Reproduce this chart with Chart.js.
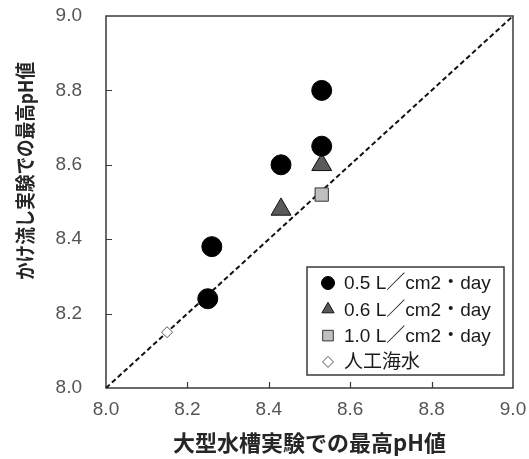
<!DOCTYPE html>
<html>
<head>
<meta charset="utf-8">
<style>
  html, body { margin: 0; padding: 0; background: #fff; }
  #wrap { width: 529px; height: 459px; }
</style>
<script src="https://cdn.jsdelivr.net/npm/chart.js@4.4.0/dist/chart.umd.min.js"></script>
</head>
<body>
<div id="wrap"><canvas id="phChart" width="529" height="459"></canvas></div>
<script>
// series names (legend)
const seriesNames = ['0.5 L／cm2・day', '0.6 L／cm2・day', '1.0 L／cm2・day', '人工海水'];

// 0.5 L/cm2・day
const circleX = [8.53, 8.53, 8.43, 8.26, 8.25];
const circleY = [8.80, 8.65, 8.60, 8.38, 8.24];
// 0.6 L/cm2・day
const triX = [8.53, 8.43];
const triY = [8.60, 8.48];
// 1.0 L/cm2・day
const squareX = [8.53];
const squareY = [8.52];
// 人工海水
const diamondX = [8.15];
const diamondY = [8.15];
// 1:1 line
const lineX = [8.0, 9.0];
const lineY = [8.0, 9.0];

// axis
const axisMin = 8.0;
const axisMax = 9.0;
const axisStep = 0.2;

const xTitle = '大型水槽実験での最高pH値';
const yTitle = 'かけ流し実験での最高pH値';

const toPoints = (xs, ys) => xs.map((x, i) => ({ x: x, y: ys[i] }));

const tickFont = { family: 'Liberation Sans, Arial, sans-serif', size: 19 };
const tickColor = '#555555';
const frameColor = '#3a3a3a';

// frame, inward ticks, y title and the legend box
const framePlugin = {
    id: 'framePlugin',
    beforeDatasetsDraw(chart) {
        const ctx = chart.ctx;
        const a = chart.chartArea;
        const xs = chart.scales.x;
        const ys = chart.scales.y;
        ctx.save();
        ctx.strokeStyle = frameColor;
        ctx.lineWidth = 1.5;
        ctx.strokeRect(a.left, a.top, a.right - a.left, a.bottom - a.top);
        ctx.lineWidth = 1.2;
        ctx.beginPath();
        xs.ticks.forEach(t => {
            if (t.value <= axisMin || t.value >= axisMax) return;
            const px = Math.round(xs.getPixelForValue(t.value)) + 0.5;
            ctx.moveTo(px, a.bottom);
            ctx.lineTo(px, a.bottom - 6);
        });
        ys.ticks.forEach(t => {
            if (t.value <= axisMin || t.value >= axisMax) return;
            const py = Math.round(ys.getPixelForValue(t.value)) + 0.5;
            ctx.moveTo(a.left, py);
            ctx.lineTo(a.left + 6, py);
        });
        ctx.stroke();
        ctx.restore();
    },
    afterDraw(chart) {
        const ctx = chart.ctx;
        // y axis title (squeezed a little along its length, like the original)
        ctx.save();
        ctx.translate(25, 171);
        ctx.rotate(-Math.PI / 2);
        ctx.font = 'bold 20px "Noto Sans CJK JP", sans-serif';
        const w = ctx.measureText(yTitle).width;
        ctx.scale(218 / w, 1);
        ctx.fillStyle = '#262626';
        ctx.textAlign = 'center';
        ctx.textBaseline = 'middle';
        ctx.fillText(yTitle, 0, 0);
        ctx.restore();

        // legend
        const box = { left: 307, top: 267, width: 197, height: 108 };
        ctx.save();
        ctx.fillStyle = '#ffffff';
        ctx.fillRect(box.left, box.top, box.width, box.height);
        ctx.strokeStyle = frameColor;
        ctx.lineWidth = 1.5;
        ctx.strokeRect(box.left, box.top, box.width, box.height);
        const legendRadius = [6.5, 7, 7.5, 5.5];
        chart.data.datasets.forEach((ds, i) => {
            if (i >= seriesNames.length) return;
            const cy = box.top + 16 + i * 26.3;
            ctx.fillStyle = ds.backgroundColor;
            ctx.strokeStyle = ds.borderColor;
            ctx.lineWidth = ds.borderWidth;
            Chart.helpers.drawPoint(ctx, { pointStyle: ds.pointStyle, radius: legendRadius[i], borderWidth: ds.borderWidth, rotation: 0 }, 328, cy);
            ctx.fillStyle = '#1a1a1a';
            ctx.font = '19px "Liberation Sans", "Noto Sans CJK JP", sans-serif';
            ctx.textAlign = 'left';
            ctx.textBaseline = 'middle';
            ctx.fillText(seriesNames[i], 344, cy + 1);
        });
        ctx.restore();
    }
};

new Chart(document.getElementById('phChart').getContext('2d'), {
    type: 'scatter',
    data: {
        datasets: [
            {
                label: seriesNames[0],
                data: toPoints(circleX, circleY),
                pointStyle: 'circle',
                pointRadius: 10,
                backgroundColor: '#000000',
                borderColor: '#000000',
                borderWidth: 1
            },
            {
                label: seriesNames[1],
                data: toPoints(triX, triY),
                pointStyle: 'triangle',
                pointRadius: 11.5,
                backgroundColor: '#5a5a5a',
                borderColor: '#111111',
                borderWidth: 1
            },
            {
                label: seriesNames[2],
                data: toPoints(squareX, squareY),
                pointStyle: 'rect',
                pointRadius: 9.4,
                backgroundColor: '#c0c0c0',
                borderColor: '#333333',
                borderWidth: 1
            },
            {
                label: seriesNames[3],
                data: toPoints(diamondX, diamondY),
                pointStyle: 'rectRot',
                pointRadius: 5.5,
                backgroundColor: '#ffffff',
                borderColor: '#555555',
                borderWidth: 1
            },
            {
                label: '1:1',
                data: toPoints(lineX, lineY),
                showLine: true,
                pointRadius: 0,
                borderColor: '#111111',
                borderWidth: 2,
                borderDash: [5, 3],
                backgroundColor: 'transparent'
            }
        ]
    },
    options: {
        responsive: false,
        animation: false,
        layout: { padding: { top: 16, right: 16, bottom: 0, left: 0 } },
        plugins: {
            legend: { display: false },
            tooltip: { enabled: false }
        },
        scales: {
            x: {
                type: 'linear',
                min: axisMin,
                max: axisMax,
                afterFit: function (scale) {
                    scale.height = 71;
                    scale.paddingLeft = 0;
                    scale.paddingRight = 0;
                },
                grid: { display: false, drawTicks: false },
                border: { display: false },
                ticks: {
                    stepSize: axisStep,
                    padding: 10,
                    color: tickColor,
                    font: tickFont,
                    callback: function (value) { return value.toFixed(1); }
                },
                title: {
                    display: true,
                    text: xTitle,
                    color: '#262626',
                    padding: { top: 0, bottom: 3 },
                    font: { family: '"Noto Sans CJK JP", sans-serif', size: 22, weight: 'bold' }
                }
            },
            y: {
                type: 'linear',
                min: axisMin,
                max: axisMax,
                afterFit: function (scale) {
                    scale.width = 106;
                    scale.paddingTop = 0;
                    scale.paddingBottom = 0;
                },
                grid: { display: false, drawTicks: false },
                border: { display: false },
                ticks: {
                    stepSize: axisStep,
                    padding: 24,
                    color: tickColor,
                    font: tickFont,
                    callback: function (value) { return value.toFixed(1); }
                }
            }
        }
    },
    plugins: [framePlugin]
});
</script>
</body>
</html>
